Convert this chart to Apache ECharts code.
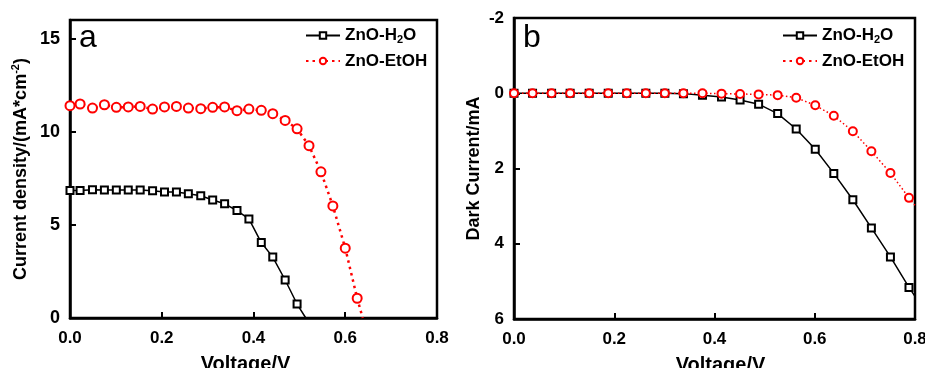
<!DOCTYPE html>
<html>
<head>
<meta charset="utf-8">
<script src="https://cdn.jsdelivr.net/npm/echarts@6/dist/echarts.min.js"></script>
<style>
html, body { margin: 0; padding: 0; background: #fff; }
#chart { width: 925px; height: 368px; }
</style>
</head>
<body>
<div id="chart"></div>
<script>
// panel a: J-V curves (voltage / current density)
var voltA = [0, 0.022, 0.049, 0.075, 0.101, 0.127, 0.153, 0.180, 0.206, 0.232, 0.258, 0.285, 0.311,
    0.337, 0.364, 0.390, 0.417, 0.442, 0.469, 0.495, 0.521, 0.547, 0.573, 0.600, 0.626];
var jH2O = [6.84, 6.84, 6.88, 6.87, 6.87, 6.87, 6.87, 6.83, 6.77, 6.76, 6.67, 6.56, 6.34, 6.13,
    5.77, 5.32, 4.05, 3.27, 2.04, 0.75];
var jEtOH = [11.40, 11.49, 11.27, 11.45, 11.31, 11.33, 11.36, 11.22, 11.33, 11.36, 11.27, 11.24,
    11.31, 11.33, 11.13, 11.22, 11.15, 10.97, 10.61, 10.16, 9.25, 7.85, 6.02, 3.75, 1.06];
var endH2O_A = [0.514, 0];
var endEtOH_A = [0.638, 0];

// panel b: dark current
var voltB = [0, 0.037, 0.075, 0.112, 0.150, 0.188, 0.225, 0.263, 0.301, 0.338, 0.376, 0.414,
    0.451, 0.488, 0.526, 0.563, 0.601, 0.638, 0.676, 0.713, 0.751, 0.788];
var darkH2O = [0, 0, 0, 0, 0, 0, 0, 0, 0, 0.01, 0.05, 0.10, 0.18, 0.29, 0.54, 0.95, 1.49, 2.13,
    2.83, 3.58, 4.35, 5.16];
var darkEtOH = [0, 0, 0, 0, 0, 0, 0, 0, 0, 0, 0, 0.01, 0.02, 0.03, 0.05, 0.12, 0.32, 0.60, 1.01,
    1.54, 2.12, 2.78];
var endH2O_B = [0.8, 5.40];
var endEtOH_B = [0.8, 2.98];

var xTicks = [0, 0.2, 0.4, 0.6, 0.8];

var FONT = '"Liberation Sans", Arial, sans-serif';

// 组合 [x, y]，末尾补一个无符号的点（曲线延伸到坐标轴/边框）
function pairs(xs, ys, tail) {
    var out = [];
    for (var i = 0; i < ys.length; i++) {
        out.push([xs[i], ys[i]]);
    }
    if (tail) {
        out.push({value: tail, symbol: 'none'});
    }
    return out;
}

function xAxisOf(idx, namePad) {
    return {
        type: 'value',
        gridIndex: idx,
        min: 0,
        max: 0.8,
        interval: 0.2,
        name: 'Voltage/V',
        nameLocation: 'middle',
        nameGap: 36,
        nameTextStyle: {fontFamily: FONT, fontWeight: 'bold', fontSize: 20, color: '#000', padding: namePad},
        axisLine: {show: true, onZero: false, lineStyle: {color: '#000', width: 2.5}},
        axisTick: {show: true, inside: true, length: 6, lineStyle: {color: '#000', width: 2}},
        axisLabel: {
            fontFamily: FONT, fontWeight: 'bold', fontSize: 17, color: '#000', margin: 12,
            formatter: function (v) { return xTicks.indexOf(v) >= 0 ? v.toFixed(1) : ''; }
        },
        splitLine: {show: false}
    };
}

var legendText = {
    fontFamily: FONT, fontWeight: 'bold', fontSize: 17, color: '#000',
    rich: {
        n: {fontFamily: FONT, fontWeight: 'bold', fontSize: 17, color: '#000', lineHeight: 20},
        sub: {fontFamily: FONT, fontWeight: 'bold', fontSize: 11, color: '#000', lineHeight: 11, verticalAlign: 'bottom'}
    }
};
function legendFmt(name) {
    if (name === 'ZnO-H2O') {
        return '{n|ZnO-H}{sub|2}{n|O}';
    }
    return '{n|' + name + '}';
}

var chart = echarts.init(document.getElementById('chart'));

chart.setOption({
    backgroundColor: '#fff',
    animation: false,
    grid: [
        {left: 70, right: 488, top: 20, bottom: 50, outerBoundsMode: 'none',
            show: true, borderColor: '#000', borderWidth: 2.5},
        {left: 514, right: 10, top: 18, bottom: 49, outerBoundsMode: 'none',
            show: true, borderColor: '#000', borderWidth: 2.5}
    ],
    legend: [
        {
            orient: 'vertical', left: 300, top: 22, itemGap: 7, itemWidth: 34, itemHeight: 8,
            data: ['ZnO-H2O', 'ZnO-EtOH'], formatter: legendFmt, textStyle: legendText,
            selectedMode: false
        },
        {
            orient: 'vertical', left: 777, top: 22, itemGap: 7, itemWidth: 34, itemHeight: 8,
            data: ['ZnO-H2O', 'ZnO-EtOH'], formatter: legendFmt, textStyle: legendText,
            selectedMode: false
        }
    ],
    xAxis: [xAxisOf(0, [0, 16, 0, 0]), xAxisOf(1, [0, 0, 0, 12])],
    yAxis: [
        {
            type: 'value',
            gridIndex: 0,
            min: 0,
            max: 16,
            interval: 5,
            name: '{n|Current density/(mA*cm}{sup|-2}{n|)}',
            nameLocation: 'middle',
            nameGap: 38,
            nameTextStyle: {
                fontFamily: FONT, fontWeight: 'bold', fontSize: 18, color: '#000',
                rich: {
                    n: {fontFamily: FONT, fontWeight: 'bold', fontSize: 18, color: '#000', lineHeight: 22},
                    sup: {fontFamily: FONT, fontWeight: 'bold', fontSize: 11, color: '#000', lineHeight: 11, verticalAlign: 'top'}
                }
            },
            axisLine: {show: true, lineStyle: {color: '#000', width: 2.5}},
            axisTick: {show: true, inside: true, length: 6, lineStyle: {color: '#000', width: 2}},
            axisLabel: {
                fontFamily: FONT, fontWeight: 'bold', fontSize: 18, color: '#000', margin: 10,
                formatter: function (v) { return v > 15 ? '' : String(v); }
            },
            splitLine: {show: false}
        },
        {
            type: 'value',
            gridIndex: 1,
            inverse: true,
            min: -2,
            max: 6,
            interval: 2,
            name: 'Dark Current/mA',
            nameLocation: 'middle',
            nameGap: 31,
            nameTextStyle: {fontFamily: FONT, fontWeight: 'bold', fontSize: 18, color: '#000'},
            axisLine: {show: true, onZero: false, lineStyle: {color: '#000', width: 2.5}},
            axisTick: {show: true, inside: true, length: 6, lineStyle: {color: '#000', width: 2}},
            axisLabel: {fontFamily: FONT, fontWeight: 'bold', fontSize: 17, color: '#000', margin: 10},
            splitLine: {show: false}
        }
    ],
    graphic: [
        {type: 'text', left: 79, top: 22, style: {text: 'a', font: '32px ' + FONT, fill: '#000'}},
        {type: 'text', left: 523, top: 22, style: {text: 'b', font: '32px ' + FONT, fill: '#000'}}
    ],
    series: [
        {
            name: 'ZnO-H2O', type: 'line', xAxisIndex: 0, yAxisIndex: 0,
            data: pairs(voltA, jH2O, endH2O_A),
            symbol: 'emptyRect', symbolSize: 7,
            itemStyle: {color: '#000', borderWidth: 1.5},
            lineStyle: {color: '#000', width: 1.5}
        },
        {
            name: 'ZnO-EtOH', type: 'line', xAxisIndex: 0, yAxisIndex: 0,
            data: pairs(voltA, jEtOH, endEtOH_A),
            symbol: 'emptyCircle', symbolSize: 9,
            itemStyle: {color: '#ff0000', borderWidth: 1.5},
            lineStyle: {color: '#ff0000', width: 2.5, type: [2.5, 4]}
        },
        {
            name: 'ZnO-H2O', type: 'line', xAxisIndex: 1, yAxisIndex: 1,
            data: pairs(voltB, darkH2O, endH2O_B),
            symbol: 'emptyRect', symbolSize: 7,
            itemStyle: {color: '#000', borderWidth: 1.5},
            lineStyle: {color: '#000', width: 1.5}
        },
        {
            name: 'ZnO-EtOH', type: 'line', xAxisIndex: 1, yAxisIndex: 1,
            data: pairs(voltB, darkEtOH, endEtOH_B),
            symbol: 'emptyCircle', symbolSize: 8,
            itemStyle: {color: '#ff0000', borderWidth: 1.5},
            lineStyle: {color: '#ff0000', width: 1.5, type: [1.5, 2.5]}
        }
    ]
});

window.onresize = function () {
    chart.resize();
};
</script>
</body>
</html>
